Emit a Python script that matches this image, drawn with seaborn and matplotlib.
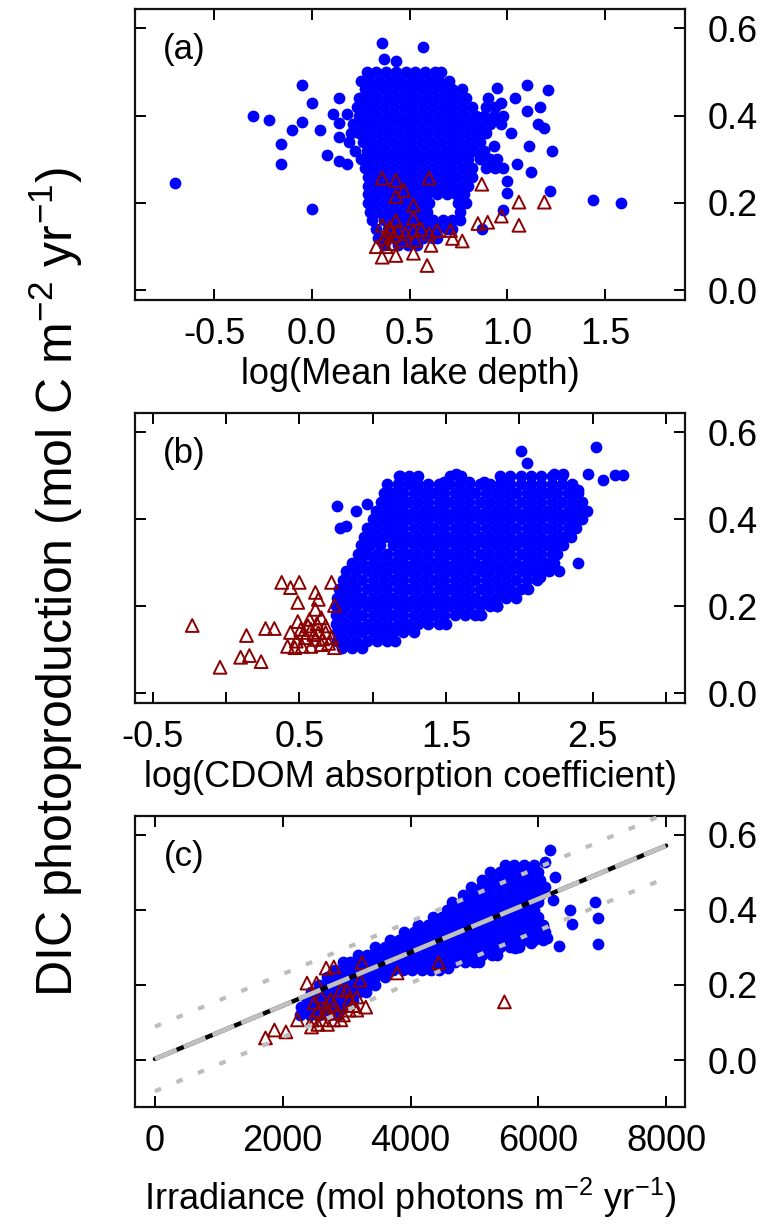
import matplotlib
matplotlib.use("Agg")
import matplotlib.pyplot as plt
import numpy as np
import pandas as pd
import seaborn as sns

# ---------------- data ----------------
# panel (a): DIC photoproduction vs log(mean lake depth)
# rows of the dense blue cloud: (DIC, [log depth values])
depth_rows = [
    (0.500, [0.28, 0.33, 0.38, 0.43, 0.48, 0.53, 0.58, 0.63, 0.66]),
    (0.480, [0.25, 0.30, 0.35, 0.40, 0.45, 0.50, 0.55, 0.60, 0.65, 0.70]),
    (0.460, [0.27, 0.32, 0.37, 0.42, 0.47, 0.52, 0.57, 0.62, 0.67, 0.72, 0.77]),
    (0.440, [0.24, 0.29, 0.34, 0.39, 0.44, 0.49, 0.54, 0.59, 0.64, 0.69, 0.74, 0.79]),
    (0.420, [0.23, 0.27, 0.32, 0.37, 0.42, 0.47, 0.52, 0.57, 0.62, 0.67, 0.72, 0.77, 0.82, 0.89, 0.94]),
    (0.400, [0.24, 0.29, 0.34, 0.39, 0.44, 0.49, 0.54, 0.59, 0.64, 0.69, 0.74, 0.79, 0.84, 0.88, 0.93, 0.98]),
    (0.380, [0.21, 0.26, 0.31, 0.36, 0.41, 0.46, 0.51, 0.56, 0.61, 0.66, 0.71, 0.76, 0.81, 0.86, 0.91, 0.97]),
    (0.360, [0.20, 0.24, 0.29, 0.34, 0.39, 0.44, 0.49, 0.54, 0.59, 0.64, 0.69, 0.74, 0.79, 0.84, 0.89]),
    (0.340, [0.19, 0.26, 0.31, 0.36, 0.41, 0.46, 0.51, 0.56, 0.61, 0.66, 0.71, 0.76, 0.81, 0.86]),
    (0.320, [0.22, 0.28, 0.33, 0.38, 0.43, 0.48, 0.53, 0.58, 0.63, 0.68, 0.73, 0.78, 0.83, 0.88]),
    (0.300, [0.25, 0.30, 0.35, 0.40, 0.45, 0.50, 0.55, 0.60, 0.65, 0.70, 0.75, 0.80, 0.86, 0.91, 0.95]),
    (0.280, [0.27, 0.32, 0.37, 0.42, 0.47, 0.52, 0.57, 0.62, 0.67, 0.72, 0.77, 0.82, 0.89, 0.94, 0.98]),
    (0.260, [0.29, 0.34, 0.39, 0.44, 0.49, 0.54, 0.59, 0.64, 0.69, 0.74, 0.79, 0.82]),
    (0.240, [0.29, 0.32, 0.37, 0.42, 0.47, 0.52, 0.57, 0.62, 0.67, 0.72, 0.77, 0.80]),
    (0.220, [0.29, 0.34, 0.39, 0.44, 0.49, 0.54, 0.59, 0.64, 0.69, 0.74, 0.78]),
    (0.200, [0.29, 0.32, 0.37, 0.42, 0.47, 0.52, 0.57, 0.60, 0.75, 0.79]),
    (0.180, [0.30, 0.34, 0.39, 0.44, 0.49, 0.54, 0.59]),
    (0.160, [0.31, 0.37, 0.42, 0.47, 0.52, 0.57, 0.62, 0.67, 0.72, 0.76]),
    (0.140, [0.33, 0.39, 0.44, 0.49, 0.54, 0.59, 0.64, 0.69, 0.72]),
    (0.120, [0.34, 0.37, 0.42, 0.47, 0.52, 0.57, 0.62, 0.64]),
    (0.105, [0.37, 0.44, 0.49, 0.54]),
]
depth_scatter = [
    (-0.70, 0.245), (-0.30, 0.400), (-0.22, 0.390), (-0.05, 0.470), (0.00, 0.430),
    (-0.05, 0.385), (-0.10, 0.367), (-0.16, 0.335), (-0.16, 0.290), (0.00, 0.186),
    (0.04, 0.367), (0.14, 0.440), (0.11, 0.404), (0.18, 0.404), (0.14, 0.350),
    (0.08, 0.310), (0.14, 0.295), (0.18, 0.290), (0.14, 0.383), (0.36, 0.567),
    (0.57, 0.557), (0.37, 0.530), (0.43, 0.525), (0.95, 0.463), (1.10, 0.470),
    (1.21, 0.458), (1.04, 0.440), (1.17, 0.420), (1.10, 0.410), (1.16, 0.380),
    (1.19, 0.372), (1.23, 0.320), (1.11, 0.330), (1.12, 0.270), (1.05, 0.290),
    (1.22, 0.227), (1.44, 0.208), (1.58, 0.200), (1.00, 0.223), (0.98, 0.183),
    (0.87, 0.140), (0.76, 0.180), (0.90, 0.440), (1.02, 0.360), (0.93, 0.330),
    (1.00, 0.250), (0.97, 0.430),
]
depth_open = [
    (0.36, 0.257), (0.43, 0.252), (0.60, 0.257), (0.47, 0.229), (0.43, 0.215),
    (0.52, 0.195), (0.52, 0.165), (0.43, 0.160), (0.36, 0.149), (0.40, 0.137),
    (0.44, 0.137), (0.52, 0.137), (0.60, 0.130), (0.64, 0.137), (0.71, 0.137),
    (0.33, 0.100), (0.38, 0.100), (0.41, 0.107), (0.46, 0.115), (0.53, 0.115),
    (0.61, 0.103), (0.36, 0.076), (0.43, 0.080), (0.52, 0.085), (0.59, 0.057),
    (0.72, 0.119), (0.40, 0.145), (0.87, 0.243), (1.06, 0.202), (1.19, 0.202),
    (0.97, 0.170), (0.85, 0.153), (0.90, 0.156), (1.06, 0.149), (0.77, 0.113),
    (0.38, 0.130), (0.42, 0.125), (0.37, 0.120), (0.48, 0.130), (0.56, 0.140),
]

# panel (b): DIC photoproduction vs log(CDOM absorption coefficient)
cdom_rows = [
    (0.500, [1.18, 1.25, 1.31, 1.53, 1.60, 1.87, 1.94, 2.01, 2.08, 2.15, 2.22, 2.29]),
    (0.480, [1.10, 1.17, 1.24, 1.31, 1.38, 1.45, 1.52, 1.59, 1.66, 1.73, 1.80, 1.87, 1.94,
             2.01, 2.08, 2.15, 2.22, 2.29, 2.36]),
    (0.460, [1.08, 1.14, 1.21, 1.28, 1.35, 1.42, 1.49, 1.56, 1.63, 1.70, 1.77, 1.84, 1.91,
             1.98, 2.05, 2.12, 2.19, 2.26, 2.33, 2.40]),
    (0.440, [1.06, 1.11, 1.17, 1.24, 1.31, 1.38, 1.45, 1.52, 1.59, 1.66, 1.73, 1.80, 1.87,
             1.94, 2.01, 2.08, 2.15, 2.22, 2.29, 2.36, 2.43]),
    (0.420, [1.02, 1.08, 1.14, 1.21, 1.28, 1.35, 1.42, 1.49, 1.56, 1.63, 1.70, 1.77, 1.84,
             1.91, 1.98, 2.05, 2.12, 2.19, 2.26, 2.33, 2.40, 2.46]),
    (0.400, [1.00, 1.06, 1.11, 1.17, 1.24, 1.31, 1.38, 1.45, 1.52, 1.59, 1.66, 1.73, 1.80,
             1.87, 1.94, 2.01, 2.08, 2.15, 2.22, 2.29, 2.36, 2.43]),
    (0.380, [0.96, 1.03, 1.10, 1.14, 1.21, 1.28, 1.35, 1.42, 1.49, 1.56, 1.63, 1.70, 1.77,
             1.84, 1.91, 1.98, 2.05, 2.12, 2.19, 2.26, 2.33, 2.39]),
    (0.360, [0.94, 1.00, 1.07, 1.11, 1.17, 1.24, 1.31, 1.38, 1.45, 1.52, 1.59, 1.66, 1.73,
             1.80, 1.87, 1.94, 2.01, 2.08, 2.15, 2.22, 2.29, 2.35]),
    (0.340, [0.92, 0.98, 1.05, 1.14, 1.21, 1.28, 1.35, 1.42, 1.49, 1.56, 1.63, 1.70, 1.77,
             1.84, 1.91, 1.98, 2.05, 2.12, 2.19, 2.26, 2.30]),
    (0.320, [0.90, 0.96, 1.03, 1.10, 1.17, 1.24, 1.31, 1.38, 1.45, 1.52, 1.59, 1.66, 1.73,
             1.80, 1.87, 1.94, 2.01, 2.08, 2.15, 2.22, 2.26]),
    (0.300, [0.86, 0.93, 1.00, 1.07, 1.14, 1.21, 1.28, 1.35, 1.42, 1.49, 1.56, 1.63, 1.70,
             1.77, 1.84, 1.91, 1.98, 2.05, 2.12, 2.19, 2.24]),
    (0.280, [0.82, 0.89, 0.96, 1.03, 1.10, 1.17, 1.24, 1.31, 1.38, 1.45, 1.52, 1.59, 1.66,
             1.73, 1.80, 1.87, 1.94, 2.01, 2.08, 2.15, 2.20]),
    (0.260, [0.80, 0.86, 0.93, 1.00, 1.07, 1.14, 1.21, 1.28, 1.35, 1.42, 1.49, 1.56, 1.63,
             1.70, 1.77, 1.84, 1.91, 1.98, 2.05, 2.12]),
    (0.240, [0.77, 0.83, 0.89, 0.96, 1.03, 1.10, 1.17, 1.24, 1.31, 1.38, 1.45, 1.52, 1.59,
             1.66, 1.73, 1.80, 1.87, 1.94, 2.01, 2.06]),
    (0.220, [0.76, 0.80, 0.86, 0.93, 1.00, 1.07, 1.14, 1.21, 1.28, 1.35, 1.42, 1.49, 1.56,
             1.63, 1.70, 1.77, 1.84, 1.91, 1.98]),
    (0.200, [0.75, 0.82, 0.89, 0.96, 1.03, 1.10, 1.17, 1.24, 1.31, 1.38, 1.45, 1.52, 1.59,
             1.66, 1.73, 1.80, 1.85]),
    (0.180, [0.75, 0.79, 0.86, 0.93, 1.00, 1.07, 1.14, 1.21, 1.28, 1.35, 1.42, 1.49, 1.56,
             1.63, 1.70, 1.74]),
    (0.160, [0.75, 0.82, 0.89, 0.96, 1.03, 1.10, 1.17, 1.24, 1.31, 1.38, 1.45, 1.50]),
    (0.140, [0.76, 0.79, 0.86, 0.93, 1.00, 1.07, 1.14, 1.21, 1.28]),
    (0.120, [0.76, 0.82, 0.89, 0.96, 1.03, 1.10, 1.15]),
    (0.105, [0.79, 0.86, 0.93]),
]
cdom_scatter = [
    (0.76, 0.430), (0.89, 0.418), (0.96, 0.435), (0.78, 0.380), (0.82, 0.385),
    (1.12, 0.450), (1.19, 0.500), (1.26, 0.482), (1.49, 0.486), (1.57, 0.505),
    (1.66, 0.486), (1.76, 0.486), (1.88, 0.490), (2.01, 0.557), (2.52, 0.566),
    (2.05, 0.530), (2.47, 0.505), (2.57, 0.489), (2.65, 0.502), (2.71, 0.502),
    (2.24, 0.505), (2.30, 0.505), (2.40, 0.468), (2.40, 0.406), (2.34, 0.376),
    (2.24, 0.330), (2.40, 0.300), (2.27, 0.280), (2.14, 0.268), (1.97, 0.227),
    (1.85, 0.200),
]
cdom_open = [
    (-0.23, 0.156), (-0.04, 0.060), (0.14, 0.133), (0.10, 0.083), (0.16, 0.087),
    (0.24, 0.073), (0.27, 0.149), (0.33, 0.149), (0.38, 0.255), (0.44, 0.243),
    (0.50, 0.255), (0.72, 0.255), (0.49, 0.209), (0.61, 0.232), (0.63, 0.216),
    (0.74, 0.202), (0.61, 0.193), (0.49, 0.165), (0.57, 0.170), (0.65, 0.174),
    (0.44, 0.140), (0.51, 0.147), (0.58, 0.147), (0.63, 0.140), (0.68, 0.140),
    (0.72, 0.128), (0.42, 0.108), (0.47, 0.105), (0.52, 0.108), (0.58, 0.108),
    (0.65, 0.112), (0.74, 0.105), (0.54, 0.128), (0.61, 0.124), (0.48, 0.120),
    (0.56, 0.155), (0.62, 0.160), (0.68, 0.155), (0.66, 0.125), (0.70, 0.115),
    (0.60, 0.135), (0.53, 0.140),
]

# panel (c): DIC photoproduction vs irradiance
irr_rows = [
    (0.520, [5475, 5625, 5775, 5925]),
    (0.500, [5250, 5400, 5550, 5700, 5850, 6000]),
    (0.480, [5125, 5275, 5425, 5575, 5725, 5875, 6025]),
    (0.460, [4950, 5100, 5250, 5400, 5550, 5700, 5850, 6000, 6100]),
    (0.440, [4825, 4975, 5125, 5275, 5425, 5575, 5725, 5875, 6025]),
    (0.420, [4650, 4800, 4950, 5100, 5250, 5400, 5550, 5700, 5850, 6000]),
    (0.400, [4575, 4725, 4875, 5025, 5175, 5325, 5475, 5625, 5775, 5925]),
    (0.380, [4350, 4500, 4650, 4800, 4950, 5100, 5250, 5400, 5550, 5700, 5850, 6000]),
    (0.360, [4125, 4275, 4425, 4575, 4725, 4875, 5025, 5175, 5325, 5475, 5625, 5775,
             5925, 6075]),
    (0.340, [3900, 4050, 4200, 4350, 4500, 4650, 4800, 4950, 5100, 5250, 5400, 5550,
             5700, 5850, 6000, 6100]),
    (0.320, [3675, 3825, 3975, 4125, 4275, 4425, 4575, 4725, 4875, 5025, 5175, 5325,
             5475, 5625, 5775, 5925, 6075]),
    (0.300, [3450, 3600, 3750, 3900, 4050, 4200, 4350, 4500, 4650, 4800, 4950, 5100,
             5250, 5400, 5550, 5700]),
    (0.280, [3175, 3325, 3475, 3625, 3775, 3925, 4075, 4225, 4375, 4525, 4675, 4825,
             4975, 5125, 5275, 5350]),
    (0.260, [2950, 3050, 3200, 3350, 3500, 3650, 3800, 3950, 4100, 4250, 4400, 4550,
             4700, 4850, 5000, 5070]),
    (0.240, [2825, 2975, 3125, 3275, 3425, 3575, 3725, 3875, 4025, 4175, 4325, 4450]),
    (0.220, [2700, 2850, 3000, 3150, 3300, 3450, 3600]),
    (0.200, [2575, 2725, 2875, 3025, 3175, 3325, 3450]),
    (0.180, [2450, 2600, 2750, 2900, 3050, 3200, 3300]),
    (0.160, [2375, 2525, 2675, 2825, 2975, 3100]),
    (0.140, [2280, 2400, 2550, 2700, 2850, 2950]),
    (0.120, [2275, 2425, 2575, 2725, 2850]),
]
irr_scatter = [
    (6190, 0.560), (6110, 0.528), (6265, 0.488), (6235, 0.427), (6500, 0.400),
    (6890, 0.421), (6940, 0.379), (6530, 0.363), (6940, 0.309), (6330, 0.304),
    (6130, 0.325), (6080, 0.355), (4580, 0.245), (5640, 0.299), (5880, 0.312),
]
irr_open = [
    (1730, 0.059), (1870, 0.080), (2050, 0.075), (2230, 0.107), (2380, 0.205),
    (2530, 0.205), (2680, 0.245), (2800, 0.248), (3240, 0.259), (2450, 0.088),
    (2460, 0.107), (2490, 0.152), (2680, 0.141), (2800, 0.147), (2910, 0.187),
    (3040, 0.160), (3160, 0.168), (3210, 0.213), (3300, 0.141), (3160, 0.133),
    (2910, 0.107), (2800, 0.107), (2620, 0.107), (3790, 0.232), (4440, 0.259),
    (5470, 0.155), (2850, 0.125), (3040, 0.133), (2680, 0.125), (2560, 0.133),
    (2950, 0.120), (3100, 0.145), (2750, 0.160), (2600, 0.170), (3000, 0.185),
    (2700, 0.095), (2550, 0.095),
]

# regression of DIC on irradiance and its prediction band
fit_x = [0, 8000]
fit_y = [0.003, 0.571]
band_x = [0, 4000, 8000]
band_hi = [0.089, 0.369, 0.657]
band_lo = [-0.083, 0.205, 0.485]


def to_frame(rows, scatter):
    xs, ys = [], []
    for yv, xlist in rows:
        xs += list(xlist)
        ys += [yv] * len(xlist)
    for xv, yv in scatter:
        xs.append(xv)
        ys.append(yv)
    return pd.DataFrame({"x": xs, "y": ys})


def pts_frame(pts):
    return pd.DataFrame(pts, columns=["x", "y"])


sns.set_style("ticks")
plt.rcParams["font.family"] = ["Liberation Sans", "DejaVu Sans"]
plt.rcParams["mathtext.fontset"] = "custom"
plt.rcParams["mathtext.rm"] = "Liberation Sans"
plt.rcParams["mathtext.default"] = "regular"
plt.rcParams["axes.unicode_minus"] = False
for key in ["text.color", "axes.labelcolor", "xtick.color", "ytick.color",
            "axes.edgecolor"]:
    plt.rcParams[key] = "black"

BLUE = "#0000ff"
RED = "#8b0000"
TICK_FS = 26
LAB_FS = 26


def draw_panel(ax, blue, opn, letter):
    sns.scatterplot(data=blue, x="x", y="y", ax=ax, color=BLUE, s=72,
                    linewidth=0, zorder=2, legend=False)
    sns.scatterplot(data=opn, x="x", y="y", ax=ax, marker="^", color=RED, s=85,
                    linewidth=1.4, zorder=3, legend=False)
    tri = ax.collections[-1]
    tri.set_facecolor("none")
    tri.set_edgecolor(RED)

    ax.set_ylim(-0.022, 0.644)
    ax.set_yticks([0.0, 0.2, 0.4, 0.6])
    ax.set_yticklabels(["0.0", "0.2", "0.4", "0.6"])
    ax.tick_params(direction="in", length=8, width=1.4, top=True, right=True,
                   left=True, bottom=True, labelleft=False, labelright=True,
                   labelsize=TICK_FS)
    ax.tick_params(axis="y", pad=16)
    ax.tick_params(axis="x", pad=12)
    for sp in ax.spines.values():
        sp.set_linewidth(1.6)
        sp.set_color("#111111")
    ax.set_ylabel("")
    ax.text(0.09, 0.86, letter, transform=ax.transAxes, ha="center",
            va="center", fontsize=25)


fig = plt.figure(figsize=(7.74, 12.30), dpi=100)
left, width = 135 / 774, 550 / 774
ax_a = fig.add_axes([left, 1 - 300 / 1230, width, 291 / 1230])
ax_b = fig.add_axes([left, 1 - 703 / 1230, width, 290 / 1230])
ax_c = fig.add_axes([left, 1 - 1107 / 1230, width, 291 / 1230])

# (a)
draw_panel(ax_a, to_frame(depth_rows, depth_scatter), pts_frame(depth_open), "(a)")
ax_a.set_xlim(-0.905, 1.91)
ax_a.set_xticks([-0.5, 0.0, 0.5, 1.0, 1.5])
ax_a.set_xticklabels(["-0.5", "0.0", "0.5", "1.0", "1.5"])
ax_a.set_xlabel("log(Mean lake depth)", fontsize=LAB_FS, labelpad=4)

# (b)
draw_panel(ax_b, to_frame(cdom_rows, cdom_scatter), pts_frame(cdom_open), "(b)")
ax_b.set_xlim(-0.62, 3.13)
ax_b.set_xticks([-0.5, 0.0, 0.5, 1.0, 1.5, 2.0, 2.5, 3.0])
ax_b.set_xticklabels(["-0.5", "", "0.5", "", "1.5", "", "2.5", ""])
ax_b.set_xlabel("log(CDOM absorption coefficient)", fontsize=LAB_FS, labelpad=4)

# (c)
draw_panel(ax_c, to_frame(irr_rows, irr_scatter), pts_frame(irr_open), "(c)")
sns.lineplot(x=band_x, y=band_hi, ax=ax_c, color="#bdbdbd", lw=3, zorder=4,
             sort=False, estimator=None)
ax_c.lines[-1].set_dashes([1.6, 4.0])
sns.lineplot(x=band_x, y=band_lo, ax=ax_c, color="#bdbdbd", lw=3, zorder=4,
             sort=False, estimator=None)
ax_c.lines[-1].set_dashes([1.6, 4.0])
sns.lineplot(x=fit_x, y=fit_y, ax=ax_c, color="black", lw=3.2, zorder=5,
             sort=False, estimator=None)
sns.lineplot(x=fit_x, y=fit_y, ax=ax_c, color="#c0c0c0", lw=3.4, zorder=6,
             sort=False, estimator=None)
ax_c.lines[-1].set_dashes([5.0, 1.6])
ax_c.set_xlim(-312, 8296)
ax_c.set_ylim(-0.125, 0.65)
ax_c.set_xticks([0, 2000, 4000, 6000, 8000])
ax_c.set_xticklabels(["0", "2000", "4000", "6000", "8000"])
ax_c.set_xlabel("Irradiance (mol photons m$^{-2}$ yr$^{-1}$)", fontsize=LAB_FS,
                labelpad=12)

fig.text(0.072, 0.527, "DIC photoproduction (mol C m$^{-2}$ yr$^{-1}$)",
         rotation=90, ha="center", va="center", fontsize=36)

fig.savefig("out.png", dpi=100)
